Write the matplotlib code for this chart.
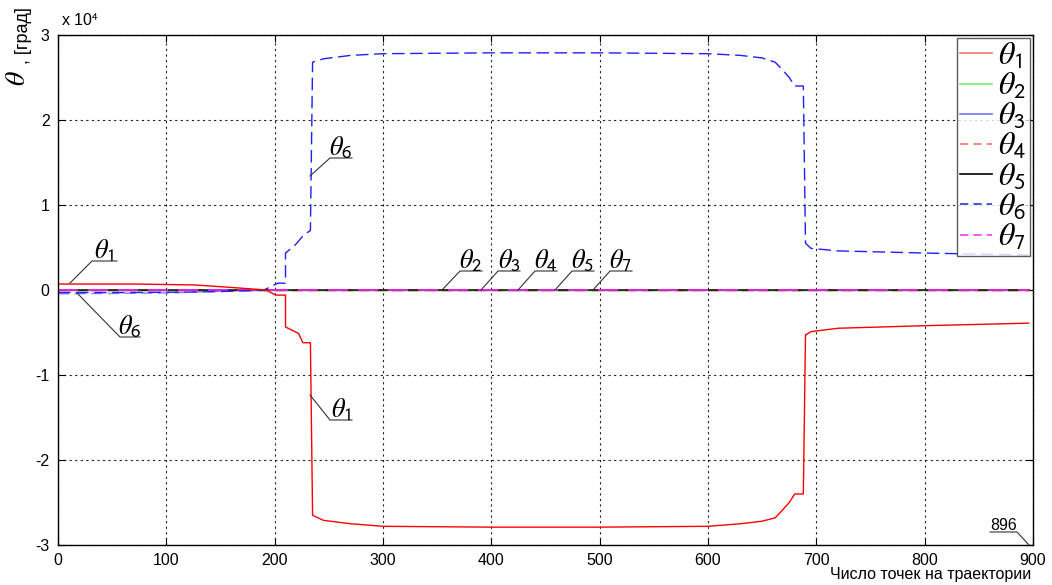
import matplotlib
matplotlib.use("Agg")
import matplotlib.pyplot as plt
from matplotlib.lines import Line2D

plt.rcParams['font.family'] = ['Liberation Sans', 'DejaVu Sans']
plt.rcParams['mathtext.fontset'] = 'stix'

# ---- data ----
x_t1 = [0, 73, 127, 160, 192, 201, 210, 210, 222, 226, 233, 235, 245, 270, 300, 400, 500, 600,
        630, 650, 662, 668, 675, 680, 688, 690, 695, 720, 800, 896]
t1 = [700, 700, 590, 300, 0, -600, -600, -4350, -5100, -6200, -6200, -26500, -27100, -27500,
      -27800, -27900, -27900, -27800, -27500, -27200, -26800, -26000, -25000, -24000, -24000,
      -5300, -4900, -4500, -4200, -3900]

x_t6 = [0, 60, 120, 160, 190, 203, 210, 210, 219, 227, 233, 235, 245, 270, 300, 400, 500, 600,
        630, 650, 662, 668, 675, 680, 688, 690, 695, 720, 800, 896]
t6 = [-300, -300, -250, -150, 0, 800, 800, 4350, 5300, 6500, 7000, 26800, 27200, 27600,
      27800, 27900, 27900, 27800, 27600, 27300, 26800, 26000, 25000, 24000, 24000,
      5500, 4900, 4600, 4350, 4100]

x_t3 = [0, 100, 190, 896]
t3 = [-450, -350, 0, 0]

x_zero = [0, 896]
t2 = [0, 0]
t4 = [0, 0]
t5 = [0, 0]
t7 = [0, 0]

x_ticks = [0, 100, 200, 300, 400, 500, 600, 700, 800, 900]
y_ticks = [-30000, -20000, -10000, 0, 10000, 20000, 30000]
y_tick_labels = ['-3', '-2', '-1', '0', '1', '2', '3']
legend_labels = [r'$\theta_{\mathsf{%d}}$' % i for i in range(1, 8)]

fig = plt.figure(figsize=(10.52, 5.85), dpi=100)
W, H = 1052, 585
ax = fig.add_axes([58 / W, 1 - 545 / H, (1033 - 58) / W, (545 - 35) / H])

ax.plot(x_zero, t2, color='#00c000', lw=1.0)
ax.plot(x_t3, t3, color='#8080ff', lw=1.0, dashes=(8, 4))
ax.plot(x_zero, t4, color='#ff0000', lw=1.0, dashes=(8, 4))
ax.plot(x_zero, t5, color='#202020', lw=1.2)
ax.plot(x_zero, t7, color='#ff20ff', lw=1.2, dashes=(12, 6))
ax.plot(x_t6, t6, color='#2020ff', lw=1.0, dashes=(9, 4))
ax.plot(x_t1, t1, color='#ff0000', lw=1.0)

ax.set_xlim(0, 900)
ax.set_ylim(-30000, 30000)
ax.set_xticks(x_ticks)
ax.set_yticks(y_ticks)
ax.set_yticklabels(y_tick_labels)
ax.tick_params(direction='in', top=True, right=True, labelsize=11.5, length=5, pad=6)
ax.grid(True, color='#222222', linestyle=(0, (2, 3)), linewidth=0.8)
for s in ax.spines.values():
    s.set_linewidth(1.0)

ax.text(0.003, 1.012, r'x 10$^{\mathsf{4}}$', transform=ax.transAxes, fontsize=11.5,
        ha='left', va='bottom')

# axis labels
fig.text(18 / W, 1 - 78 / H, r'$\theta$', fontsize=20, rotation=90, ha='center', va='center')
fig.text(24 / W, 1 - 36 / H, ', [град]', fontsize=13, rotation=90, ha='center', va='center')
fig.text(1031 / W, 1 - 574 / H, 'Число точек на траектории', fontsize=11.5, ha='right', va='center')

# legend
cols = ['#ff7070', '#70f070', '#7070ff', '#ff7070', '#000000', '#3030e0', '#f040f0']
styles = ['-', '-', '-', (0, (5, 3)), '-', (0, (5, 3)), (0, (5, 3))]
handles = [Line2D([0], [0], color=c, ls=st, lw=1.2) for c, st in zip(cols, styles)]
leg = ax.legend(handles, legend_labels, loc='upper right', fontsize=23, frameon=True,
                fancybox=False, edgecolor='#333333', handlelength=1.0, handletextpad=0.2,
                labelspacing=0.0, borderpad=0.1, borderaxespad=0.1)
leg.get_frame().set_linewidth(1.0)


def px(xp, yp):
    return (xp - 58) / 1.0833, (290 - yp) / 85.0 * 10000


def callout(label, p0, p1, p2, tx, ty, fs=19):
    a = px(*p0); b = px(*p1); c = px(*p2)
    ax.plot([a[0], b[0], c[0]], [a[1], b[1], c[1]], color='#333333', lw=0.8)
    t = px(tx, ty)
    ax.text(t[0], t[1], label, fontsize=fs, ha='center', va='baseline')


def th(i):
    return r'$\theta_{\mathsf{%d}}$' % i


callout(th(1), (70, 283), (92, 261), (117, 261), 104, 258)
callout(th(6), (77, 293), (120, 337), (140, 337), 130, 334)
callout(th(2), (442, 290), (460, 271), (482, 271), 471, 268)
callout(th(3), (481, 290), (498, 271), (520, 271), 509, 268)
callout(th(4), (518, 290), (535, 271), (557, 271), 546, 268)
callout(th(5), (555, 290), (572, 271), (594, 271), 583, 268)
callout(th(7), (593, 290), (610, 271), (632, 271), 621, 268)
callout(th(6), (310, 176), (330, 158), (352, 158), 341, 155)
callout(th(1), (310, 395), (330, 420), (352, 420), 341, 417)
a = px(1029, 545); b = px(1017, 532); c = px(990, 532)
ax.plot([a[0], b[0], c[0]], [a[1], b[1], c[1]], color='#333333', lw=0.8, clip_on=False)
t = px(1004, 530)
ax.text(t[0], t[1], '896', fontsize=11.5, ha='center', va='baseline')

fig.savefig('out.png', dpi=100, facecolor='white')
